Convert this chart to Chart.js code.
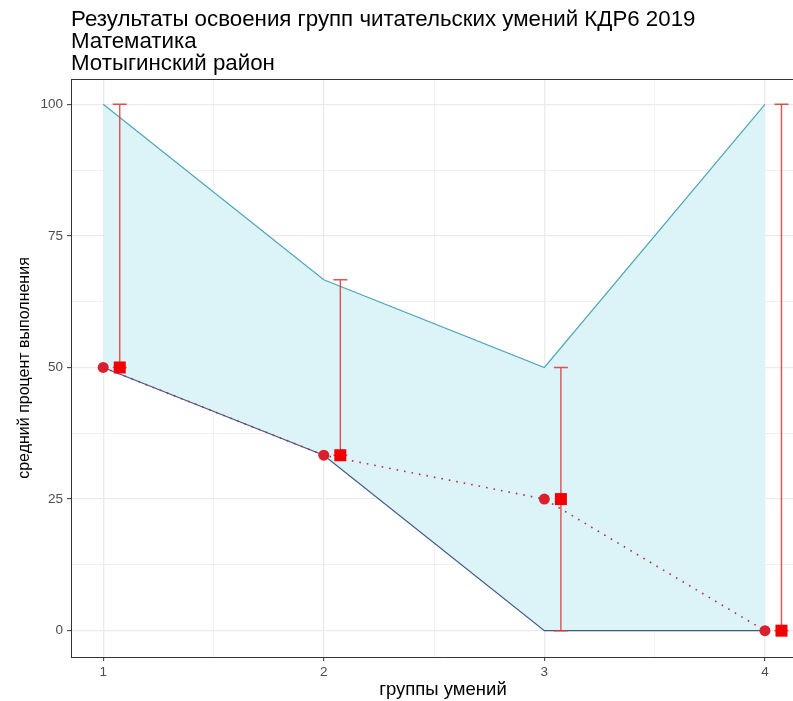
<!DOCTYPE html>
<html>
<head>
<meta charset="utf-8">
<script src="https://cdn.jsdelivr.net/npm/chart.js@4/dist/chart.umd.min.js"></script>
<style>
  html, body { margin: 0; padding: 0; background: #fff; overflow: hidden; }
  #wrap { width: 820px; height: 701px; }
</style>
</head>
<body>
<div id="wrap"><canvas id="chart" width="820" height="701"></canvas></div>
<script>
// данные
var titleLines = ['Результаты освоения групп читательских умений КДР6 2019', 'Математика', 'Мотыгинский район'];
var groups = [1, 2, 3, 4];
var upper = [100, 66.67, 50, 100];
var lower = [50, 33.33, 0, 0];
var meanDistrict = [50, 33.33, 25, 0];
var meanSchool = [50, 33.33, 25, 0];
var shift = 0.075;
var xTicks = [1, 1.5, 2, 2.5, 3, 3.5, 4];
var yTicks = [0, 12.5, 25, 37.5, 50, 62.5, 75, 87.5, 100];

var FONT = '"Liberation Sans", Arial, sans-serif';

function pts(xs, ys, dx) {
    return xs.map(function(x, i) { return {x: x + (dx || 0), y: ys[i]}; });
}

var titlePlugin = {
    id: 'titleLines',
    afterDraw: function(chart) {
        var c = chart.ctx, a = chart.chartArea;
        c.save();
        c.fillStyle = '#000';
        c.font = '22.3px ' + FONT;
        c.textBaseline = 'alphabetic';
        titleLines.forEach(function(t, i) { c.fillText(t, a.left, 26 + i * 22); });
        // верхняя и правая рамка панели
        c.strokeStyle = '#333';
        c.lineWidth = 1;
        c.beginPath();
        c.moveTo(a.left, a.top + 0.5);
        c.lineTo(a.right, a.top + 0.5);
        c.lineTo(a.right, a.bottom);
        c.stroke();
        c.restore();
    }
};

var errorBars = {
    id: 'errorBars',
    afterDatasetDraw: function(chart, args) {
        if (!chart.data.datasets[args.index].errorBarsAfter) return;
        var c = chart.ctx, xs = chart.scales.x, ys = chart.scales.y;
        c.save();
        c.strokeStyle = 'rgba(225,50,50,0.85)';
        c.lineWidth = 1.4;
        groups.forEach(function(g, i) {
            var px = xs.getPixelForValue(g + shift);
            var top = ys.getPixelForValue(upper[i]);
            var bot = ys.getPixelForValue(lower[i]);
            c.beginPath();
            c.moveTo(px, top); c.lineTo(px, bot);
            c.moveTo(px - 7, top); c.lineTo(px + 7, top);
            c.moveTo(px - 7, bot); c.lineTo(px + 7, bot);
            c.stroke();
        });
        c.restore();
    }
};

var ctx = document.getElementById('chart').getContext('2d');
window.skills = new Chart(ctx, {
    type: 'line',
    data: {
        datasets: [{
            data: pts(groups, upper),
            borderColor: '#4fa5bb',
            borderWidth: 1.2,
            backgroundColor: '#dcf3f8',
            fill: '+1',
            pointRadius: 0,
            order: 4
        }, {
            data: pts(groups, lower),
            borderColor: '#3d5a86',
            borderWidth: 1.2,
            fill: false,
            pointRadius: 0,
            order: 3,
            errorBarsAfter: true
        }, {
            data: pts(groups, meanDistrict),
            borderColor: '#b83038',
            borderWidth: 1.6,
            borderDash: [1.6, 6],
            pointRadius: 5.5,
            pointBackgroundColor: '#d9202c',
            pointBorderColor: '#d9202c',
            pointBorderWidth: 0,
            fill: false,
            order: 1
        }, {
            data: pts(groups, meanSchool, shift),
            showLine: false,
            pointStyle: 'rect',
            pointRadius: 8.5,
            pointBackgroundColor: '#f20000',
            pointBorderColor: '#f20000',
            pointBorderWidth: 0,
            order: 0
        }]
    },
    options: {
        responsive: false,
        animation: false,
        devicePixelRatio: 1,
        layout: { autoPadding: false, padding: { top: 79, left: 15, right: 5, bottom: 0 } },
        plugins: { legend: { display: false }, title: { display: false }, tooltip: { enabled: false } },
        scales: {
            x: {
                type: 'linear',
                min: 0.854,
                max: 4.227,
                afterBuildTicks: function(s) { s.ticks = xTicks.map(function(v) { return {value: v}; }); },
                afterFit: function(s) { s.height = 44; },
                ticks: {
                    color: '#4d4d4d',
                    font: { family: FONT, size: 13.5 },
                    padding: 3,
                    maxRotation: 0,
                    callback: function(v) { return v % 1 === 0 ? String(v) : ''; }
                },
                grid: {
                    color: '#ebebeb',
                    lineWidth: function(c) { return c.tick && c.tick.value % 1 === 0 ? 1.3 : 0.7; },
                    tickLength: 4,
                    tickColor: function(c) { return c.tick && c.tick.value % 1 === 0 ? '#333' : 'rgba(0,0,0,0)'; },
                    tickWidth: 1
                },
                border: { display: true, color: '#333', width: 1 },
                title: {
                    display: true,
                    text: 'группы умений',
                    color: '#000',
                    font: { family: FONT, size: 18.5 },
                    padding: { top: 0, bottom: 0 }
                }
            },
            y: {
                min: -5,
                max: 104.8,
                afterBuildTicks: function(s) { s.ticks = yTicks.map(function(v) { return {value: v}; }); },
                afterFit: function(s) { s.width = 56; },
                ticks: {
                    color: '#4d4d4d',
                    font: { family: FONT, size: 13.5 },
                    padding: 4,
                    callback: function(v) { return v % 25 === 0 ? String(v) : ''; }
                },
                grid: {
                    color: '#ebebeb',
                    lineWidth: function(c) { return c.tick && c.tick.value % 25 === 0 ? 1.3 : 0.7; },
                    tickLength: 4,
                    tickColor: function(c) { return c.tick && c.tick.value % 25 === 0 ? '#333' : 'rgba(0,0,0,0)'; },
                    tickWidth: 1
                },
                border: { display: true, color: '#333', width: 1 },
                title: {
                    display: true,
                    text: 'средний процент выполнения',
                    color: '#000',
                    font: { family: FONT, size: 16 },
                    padding: { top: 0, bottom: 0 }
                }
            }
        }
    },
    plugins: [errorBars, titlePlugin]
});
</script>
</body>
</html>
